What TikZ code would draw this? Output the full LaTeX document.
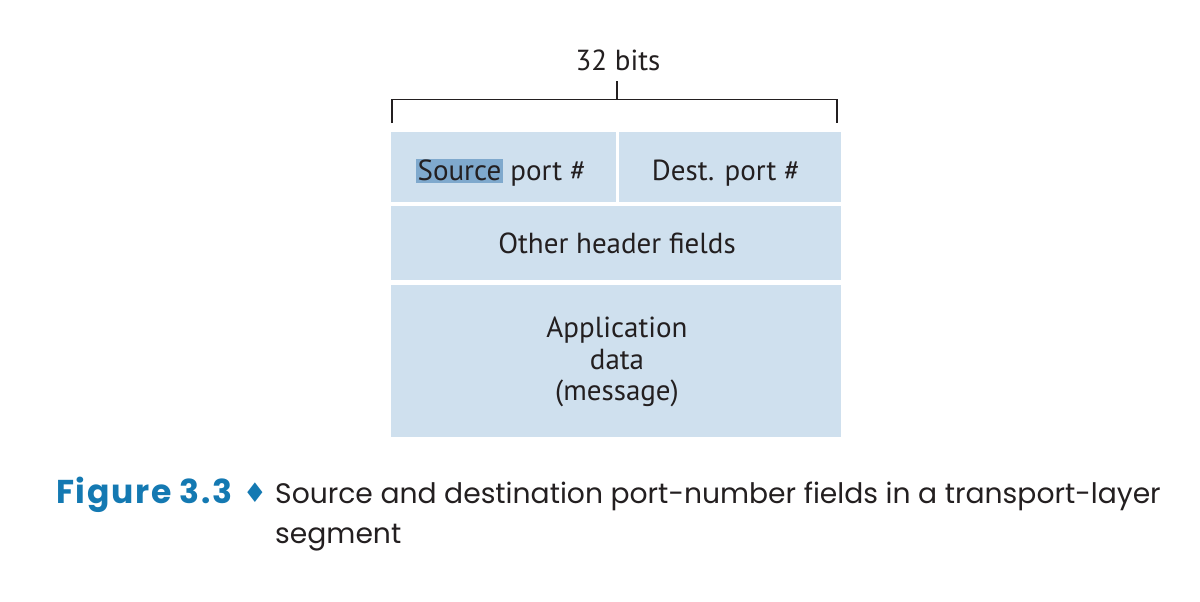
\documentclass[tikz,border=0pt]{standalone}
\usepackage{fontspec}
\setmainfont{PT Sans}
\newfontfamily\capfont{Poppins}
\newfontfamily\capboldfont{Poppins}[LetterSpace=5]
\newfontfamily\symfont{DejaVu Sans}
\definecolor{fieldblue}{HTML}{CFE0EE}
\definecolor{hlblue}{HTML}{7FA9CD}
\definecolor{inkdark}{HTML}{231F20}
\definecolor{figblue}{HTML}{1479B2}
\begin{document}
\begin{tikzpicture}[x=1pt,y=-1pt,
  field/.style={fill=fieldblue, draw=none, inner sep=0pt, anchor=north west},
  fieldtext/.style={anchor=base, inner sep=0pt, text=inkdark, font=\fontsize{29}{31}\selectfont},
  bracketline/.style={draw=inkdark, line width=1.4pt},
  captext/.style={anchor=base west, inner sep=0pt, text=inkdark, font=\capfont\fontsize{28.2}{40}\selectfont}
]
\useasboundingbox (0,0) rectangle (1200,602);
% bracket
\coordinate (bl) at (392,123);
\coordinate (br) at (837,123);
\coordinate (bltop) at (392,99.5);
\coordinate (brtop) at (837,99.5);
\coordinate (bmid) at (617,99.5);
\coordinate (btop) at (617,81);
\draw[bracketline] (bl) -- (bltop) -- (brtop) -- (br);
\draw[bracketline] (bmid) -- (btop);
\node[fieldtext] (bits) at (618,70.5) {32 bits};
% fields
\node[field, minimum width=224.7pt, minimum height=70.3pt] (srcbox) at (391,131.7) {};
\node[field, minimum width=222pt, minimum height=70.3pt] (dstbox) at (619,131.7) {};
\node[field, minimum width=450pt, minimum height=74pt] (hdrbox) at (391,206) {};
\node[field, minimum width=450pt, minimum height=152.5pt] (appbox) at (391,284.3) {};
\node[fieldtext] (srctext) at (501,180.7) {{\setlength\fboxsep{1.5pt}\colorbox{hlblue}{Source}} port \#};
\node[fieldtext] (dsttext) at (726,180.7) {Dest. port \#};
\node[fieldtext] (hdrtext) at (617,253) {Other header fields};
\node[fieldtext] (apptext1) at (617,337.3) {Application};
\node[fieldtext] (apptext2) at (617,369) {data};
\node[fieldtext] (apptext3) at (617,400) {(message)};
% caption
\node[anchor=base west, inner sep=0pt, text=figblue, font=\capboldfont\bfseries\fontsize{33}{40}\selectfont] (figlabel) at (56,503) {Figure 3.3};
\node[anchor=base, inner sep=0pt, text=figblue, font=\symfont\fontsize{27}{30}\selectfont] (diamond) at (255,502) {♦};
\node[captext] (cap1) at (275,503) {Source and destination port-number fields in a transport-layer};
\node[captext] (cap2) at (275,543) {segment};
\end{tikzpicture}
\end{document}
